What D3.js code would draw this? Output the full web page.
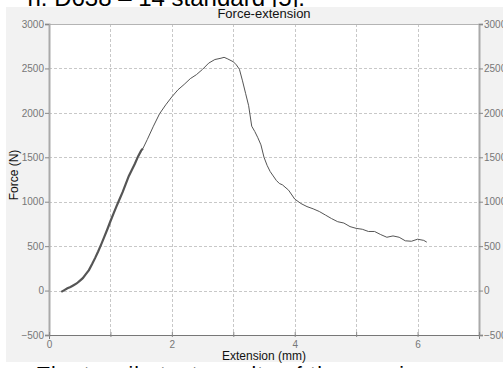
<!DOCTYPE html>
<html>
<head>
<meta charset="utf-8">
<script src="https://cdn.jsdelivr.net/npm/d3@7"></script>
<style>
  html, body { margin: 0; padding: 0; background: #fff; }
  svg { display: block; font-family: "Liberation Sans", Arial, sans-serif; }
</style>
</head>
<body>
<svg id="chart" width="503" height="368"></svg>
<script>
// Force-extension record of a tensile specimen
// Dense initial loading segment (extension mm, force N)
const loadExt   = [0.2, 0.25, 0.3, 0.35, 0.4, 0.45, 0.5, 0.55, 0.6, 0.65, 0.7, 0.75, 0.8, 0.85, 0.9, 0.95, 1.0, 1.05, 1.1, 1.15, 1.2, 1.25, 1.3, 1.35, 1.4, 1.45, 1.5, 1.53];
const loadForce = [-15, 5, 25, 40, 60, 80, 110, 140, 185, 230, 295, 365, 440, 520, 605, 690, 780, 865, 950, 1030, 1110, 1200, 1290, 1360, 1430, 1510, 1575, 1600];

// Remaining curve: peak and post-peak decline
const restExt   = [1.53, 1.6, 1.7, 1.8, 1.9, 2.0, 2.1, 2.2, 2.3, 2.4, 2.5, 2.6, 2.7, 2.8, 2.85, 2.9, 3.0, 3.05, 3.1, 3.15, 3.2, 3.25, 3.3, 3.35, 3.4, 3.45, 3.5, 3.55, 3.6, 3.65, 3.7, 3.75, 3.8, 3.9, 4.0, 4.1, 4.2, 4.3, 4.4, 4.5, 4.6, 4.7, 4.8, 4.9, 5.0, 5.1, 5.2, 5.3, 5.4, 5.5, 5.6, 5.7, 5.8, 5.9, 6.0, 6.1, 6.15];
const restForce = [1600, 1700, 1850, 1990, 2090, 2180, 2260, 2320, 2385, 2430, 2490, 2560, 2600, 2615, 2625, 2610, 2575, 2540, 2490, 2360, 2220, 2080, 1850, 1790, 1720, 1640, 1500, 1410, 1340, 1290, 1240, 1205, 1190, 1130, 1030, 980, 945, 920, 890, 850, 810, 775, 760, 720, 700, 690, 665, 665, 630, 600, 615, 600, 560, 555, 578, 565, 545];

const xTicks = [0, 1, 2, 3, 4, 5, 6, 7];
const xLabels = ["0", "", "2", "", "4", "", "6", ""];
const yTicks = [-500, 0, 500, 1000, 1500, 2000, 2500, 3000];

const svg = d3.select("#chart");
const W = 503, H = 368;
const m = { left: 49, right: 479, top: 24, bottom: 335 };

// Surrounding document text (partly outside the view)
svg.append("text")
  .attr("x", 305).attr("y", 6)
  .attr("text-anchor", "end")
  .attr("font-size", 24)
  .attr("fill", "#000")
  .text("n. D638 – 14 standard [5].");

// Grey chart panel
svg.append("rect")
  .attr("x", 6).attr("y", 7)
  .attr("width", W - 6).attr("height", 355)
  .attr("fill", "#f2f2f2");

svg.append("text")
  .attr("x", 37).attr("y", 381)
  .attr("font-size", 21)
  .attr("fill", "#000")
  .attr("textLength", 423)
  .text("The tensile test results of the specimens");

const x = d3.scaleLinear().domain([0, 7]).range([m.left, m.right]);
const y = d3.scaleLinear().domain([-500, 3000]).range([m.bottom, m.top]);

// Plot area
svg.append("rect")
  .attr("x", m.left).attr("y", m.top)
  .attr("width", m.right - m.left).attr("height", m.bottom - m.top)
  .attr("fill", "#fff");

// Grid
const grid = svg.append("g").attr("stroke", "#c8c8c8").attr("stroke-width", 1).attr("stroke-dasharray", "3,2");
grid.selectAll("line.v").data(xTicks.slice(1, -1)).join("line")
  .attr("x1", d => Math.round(x(d)) + 0.5).attr("x2", d => Math.round(x(d)) + 0.5)
  .attr("y1", m.top).attr("y2", m.bottom);
grid.selectAll("line.h").data(yTicks.slice(1, -1)).join("line")
  .attr("x1", m.left).attr("x2", m.right)
  .attr("y1", d => Math.round(y(d)) + 0.5).attr("y2", d => Math.round(y(d)) + 0.5);

// Top frame line
svg.append("line")
  .attr("x1", m.left).attr("x2", m.right)
  .attr("y1", m.top + 0.5).attr("y2", m.top + 0.5)
  .attr("stroke", "#b4b4b4");

// Axes
const tickFont = g => {
  g.selectAll("text").attr("fill", "#777").attr("font-size", 10).attr("font-family", "Liberation Sans, Arial, sans-serif");
  g.selectAll(".tick line").attr("stroke", "#888");
};

const yLeft = svg.append("g").attr("transform", `translate(${m.left},0)`)
  .call(d3.axisLeft(y).tickValues(yTicks).tickSize(4).tickPadding(1).tickFormat(d3.format("d")));
yLeft.select(".domain").attr("stroke", "#aaa").attr("stroke-width", 2);
tickFont(yLeft);

const yRight = svg.append("g").attr("transform", `translate(${m.right},0)`)
  .call(d3.axisRight(y).tickValues(yTicks).tickSize(4).tickPadding(1).tickFormat(d3.format("d")));
yRight.select(".domain").attr("stroke", "#aaa").attr("stroke-width", 2);
tickFont(yRight);

const xAxis = svg.append("g").attr("transform", `translate(0,${m.bottom})`)
  .call(d3.axisBottom(x).tickValues(xTicks).tickSize(4).tickPadding(2).tickFormat((d, i) => xLabels[i]));
xAxis.select(".domain").attr("stroke", "#777").attr("stroke-width", 1);
tickFont(xAxis);
xAxis.selectAll(".tick line").attr("y1", -3).attr("y2", 2);

// Titles
svg.append("text")
  .attr("x", (m.left + m.right) / 2).attr("y", 18)
  .attr("text-anchor", "middle").attr("font-size", 13).attr("fill", "#111")
  .text("Force-extension");

svg.append("text")
  .attr("x", (m.left + m.right) / 2).attr("y", 360)
  .attr("text-anchor", "middle").attr("font-size", 12).attr("fill", "#111")
  .text("Extension (mm)");

svg.append("text")
  .attr("transform", "translate(18,175) rotate(-90)")
  .attr("text-anchor", "middle").attr("font-size", 12).attr("fill", "#111")
  .text("Force (N)");

// Curve
const line = d3.line().x(d => x(d[0])).y(d => y(d[1]));

svg.append("path")
  .datum(restExt.map((e, i) => [e, restForce[i]]))
  .attr("d", line)
  .attr("fill", "none").attr("stroke", "#555").attr("stroke-width", 1);

svg.append("path")
  .datum(loadExt.map((e, i) => [e, loadForce[i]]))
  .attr("d", line)
  .attr("fill", "none").attr("stroke", "#555").attr("stroke-width", 2.2);
</script>
</body>
</html>
